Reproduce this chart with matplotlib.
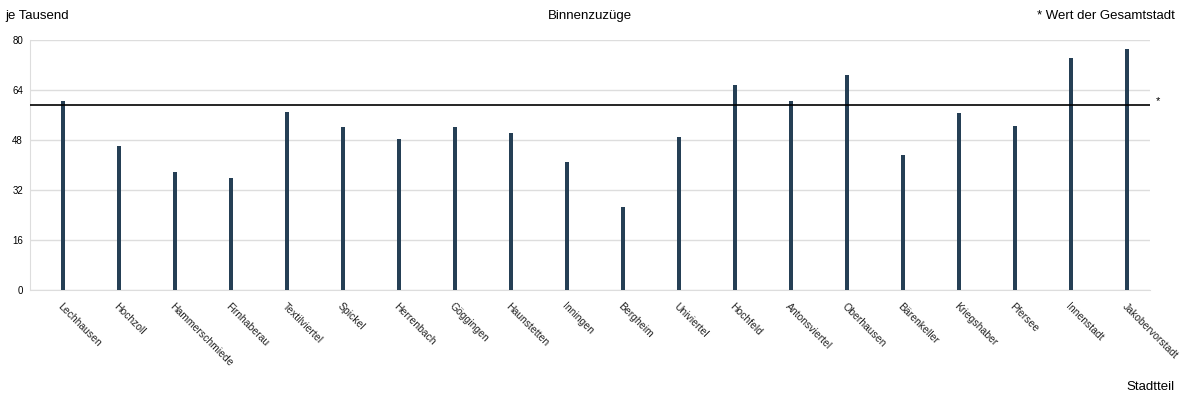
import matplotlib
matplotlib.use('Agg')
import matplotlib.pyplot as plt

# Binnenzuzuege je Tausend nach Stadtteil
stadtteile = ['Lechhausen', 'Hochzoll', 'Hammerschmiede', 'Firnhaberau', 'Textilviertel',
              'Spickel', 'Herrenbach', 'Göggingen', 'Haunstetten', 'Inningen',
              'Bergheim', 'Univiertel', 'Hochfeld', 'Antonsviertel', 'Oberhausen',
              'Bärenkeller', 'Kriegshaber', 'Pfersee', 'Innenstadt', 'Jakobervorstadt']
werte = [60.5, 46.1, 37.8, 35.8, 57.0,
         52.2, 48.3, 52.2, 50.2, 41.0,
         26.6, 49.0, 65.6, 60.5, 68.8,
         43.2, 56.6, 52.5, 74.2, 77.1]
gesamtstadt = 59.2
y_ticks = [0, 16, 32, 48, 64, 80]

plt.rcParams['font.family'] = ['Liberation Sans', 'DejaVu Sans']

fig = plt.figure(figsize=(11.8, 3.97), dpi=100)
ax = fig.add_axes([30/1180, 1-290/397, 1120/1180, 250/397])

x = list(range(len(stadtteile)))
ax.bar(x, werte, width=0.085, color='#253f55', zorder=3)
ax.axhline(gesamtstadt, color='black', lw=1.2, zorder=4)

ax.set_xlim(-0.59, 19.41)
ax.set_ylim(0, 80)
ax.set_yticks(y_ticks)
ax.set_yticklabels([str(t) for t in y_ticks], fontsize=7)
ax.yaxis.grid(True, color='#dddddd', lw=1, zorder=0)
ax.tick_params(axis='y', length=0, pad=5)
ax.tick_params(axis='x', length=0)
ax.set_xticks(x)
ax.set_xticklabels([])
for i, name in enumerate(stadtteile):
    ax.annotate(name, xy=(i, 0), xytext=(0, -8), textcoords='offset points',
                rotation=-45, rotation_mode='anchor', ha='left', va='top',
                fontsize=7.5, color='#222222')

for s in ['top', 'right']:
    ax.spines[s].set_visible(False)
ax.spines['left'].set_color('#dddddd')
ax.spines['bottom'].set_color('#dddddd')

ax.annotate('*', xy=(1, gesamtstadt), xycoords=('axes fraction', 'data'),
            xytext=(4, 3), textcoords='offset points', ha='left', va='center', fontsize=8)

fig.text(5/1180, 1-16/397, 'je Tausend', fontsize=9.5, va='center', ha='left')
fig.text(590/1180, 1-16/397, 'Binnenzuzüge', fontsize=9.5, va='center', ha='center')
fig.text(1175/1180, 1-16/397, '* Wert der Gesamtstadt', fontsize=9.5, va='center', ha='right')
fig.text(1175/1180, 1-387/397, 'Stadtteil', fontsize=9.5, va='center', ha='right')

fig.savefig('out.png', dpi=100)
